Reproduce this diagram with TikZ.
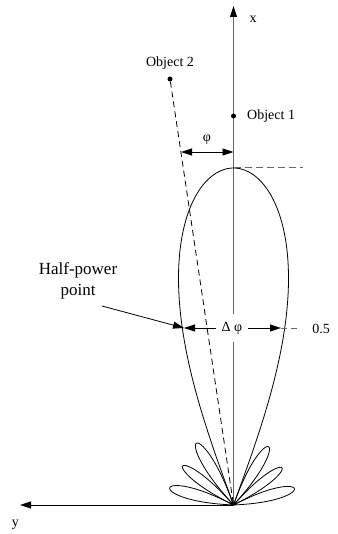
\documentclass[tikz,border=0pt]{standalone}
\usepackage{fontspec}
\setmainfont{Liberation Serif}
\usetikzlibrary{arrows.meta}
\begin{document}
\begin{tikzpicture}[x=1pt,y=-1pt,
  lbl/.style={font=\fontsize{14}{16}\selectfont, inner sep=1pt},
  tip/.style={-{Triangle[length=11pt,width=7pt,color=black]}},
  lobe/.style={line width=0.8pt, black},
  axisgray/.style={line width=1pt, black!60},
  dot/.style={circle, fill=black, inner sep=0pt, minimum size=5pt}]
\useasboundingbox (0,0) rectangle (337,534);
\coordinate (O) at (233.5,505);
\coordinate (xtip) at (233.5,6);
\coordinate (ytip) at (20,505);
\coordinate (top) at (233.5,168);
\coordinate (topE) at (303,168);
\coordinate (phiL) at (181,152);
\coordinate (phiR) at (233.5,152);
\coordinate (hpL) at (184,328);
\coordinate (hpR) at (281,328);
\coordinate (hpE) at (300,328);
\coordinate (hpS) at (102,306);
% axes
\draw[axisgray, tip] (O) -- (xtip);
\draw[line width=1pt, tip] (O) -- (ytip);
\node[lbl] (xl) at (253,19) {x};
\node[lbl] (yl) at (15.5,525) {y};
% objects
\node[dot] (obj1) at (233.5,116) {};
\node[dot] (obj2) at (170,79) {};
\node[lbl, anchor=west] (obj1l) at (246,116) {Object 1};
\node[lbl] (obj2l) at (170,63) {Object 2};
\draw[line width=0.8pt, dash pattern=on 6pt off 4pt] (obj2) -- (O);
% main lobe
\draw[lobe] plot[domain=-20:20, samples=161, smooth]
  ({233.5+337*sqrt(abs(cos(4.5*\x)))*sin(\x)}, {505-337*sqrt(abs(cos(4.5*\x)))*cos(\x)});
% side lobes
\foreach \a/\b/\A/\s in {20/42/72/-1, 42/63/64/-1, 63/87/66/-1, 20/42/68/1, 42/63/61/1, 63/87/63/1}{
  \draw[lobe] plot[domain=\a:\b, samples=80, smooth]
    ({233.5+\s*\A*(abs(sin(180*(\x-\a)/(\b-\a))))^0.7*sin(\x)}, {505-\A*(abs(sin(180*(\x-\a)/(\b-\a))))^0.7*cos(\x)});
}
% top dashed
\draw[black!60, line width=1pt, dash pattern=on 7pt off 4pt] (top) -- (topE);
% phi
\draw[line width=0.8pt, {Triangle[length=11pt,width=7pt]}-{Triangle[length=11pt,width=7pt]}] (phiL) -- (phiR);
\node[lbl] (phil) at (207,140) {φ};
% half power
\node[lbl, fill=white, inner xsep=6pt, inner ysep=8pt] (dphi) at (232,328) {Δ φ};
\draw[line width=0.8pt, tip] (dphi.west) -- (hpL);
\draw[line width=0.8pt, tip] (dphi.east) -- (hpR);
\draw[black!60, line width=1pt, dash pattern=on 6pt off 4pt] (hpR) -- (hpE);
\node[lbl] (half) at (321,329) {0.5};
\node[font=\fontsize{17}{21}\selectfont, align=center, inner sep=1pt] (hp) at (78,281) {Half-power\\point};
\draw[line width=0.8pt, tip] (hpS) -- (hpL);
\end{tikzpicture}
\end{document}
